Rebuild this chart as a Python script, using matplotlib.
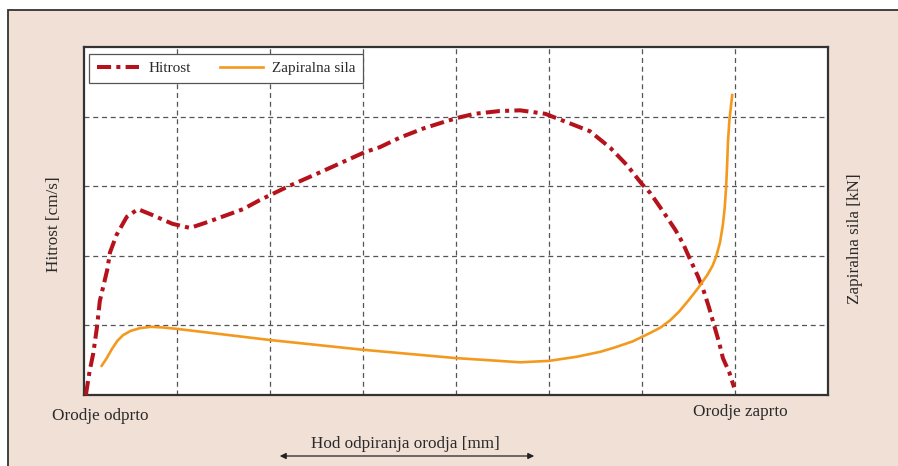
import matplotlib.pyplot as plt
from matplotlib.patches import Rectangle, FancyArrowPatch

# Hitrost (dash-dot, rdeča)
hitrost_x = [0.02, 0.06, 0.10, 0.14, 0.17, 0.25, 0.28, 0.35, 0.46, 0.58, 0.71, 0.95, 1.14, 1.34,
             1.71, 1.89, 2.20, 2.54, 3.02, 3.18, 3.40, 3.65, 3.91, 4.04, 4.20, 4.47, 4.69, 4.96,
             5.23, 5.44, 5.66, 5.84, 6.00, 6.09, 6.23, 6.36, 6.44, 6.52, 6.60, 6.66, 6.72, 6.78,
             6.83, 6.87, 6.94, 6.99]
hitrost_y = [0.00, 0.34, 0.60, 0.98, 1.35, 1.80, 2.05, 2.30, 2.56, 2.67, 2.60, 2.46, 2.40, 2.49,
             2.67, 2.80, 3.00, 3.20, 3.49, 3.56, 3.70, 3.83, 3.94, 3.99, 4.04, 4.08, 4.09, 4.04,
             3.90, 3.79, 3.55, 3.30, 3.03, 2.90, 2.63, 2.37, 2.18, 1.94, 1.71, 1.51, 1.26, 0.98,
             0.75, 0.53, 0.32, 0.11]

# Zapiralna sila (oranžna)
sila_x = [0.19, 0.24, 0.30, 0.36, 0.42, 0.50, 0.60, 0.72, 0.85, 1.00, 1.50, 2.00, 2.50, 3.00,
          3.50, 4.00, 4.35, 4.69, 5.00, 5.30, 5.55, 5.70, 5.90, 6.10, 6.20, 6.30, 6.40, 6.50,
          6.60, 6.70, 6.76, 6.80, 6.84, 6.87, 6.89, 6.905, 6.915, 6.925, 6.94, 6.97]
sila_y = [0.42, 0.52, 0.66, 0.78, 0.86, 0.92, 0.96, 0.98, 0.97, 0.95, 0.87, 0.79, 0.72, 0.65,
          0.59, 0.53, 0.50, 0.47, 0.49, 0.55, 0.62, 0.68, 0.77, 0.90, 0.97, 1.07, 1.20, 1.36,
          1.53, 1.72, 1.86, 2.00, 2.20, 2.45, 2.70, 3.00, 3.30, 3.65, 3.95, 4.31]

rdeca = '#b5121b'
oranzna = '#f39a1e'
ozadje = '#f1e0d6'
tekst = '#2a2a2a'

plt.rcParams['font.family'] = ['Liberation Serif', 'DejaVu Serif']

fig = plt.figure(figsize=(8.98, 4.66), dpi=100)
fig.patch.set_facecolor('white')

# Roza okvir ozadja
fig.add_artist(Rectangle((8 / 898, -0.05), 1.1, 1 - 10 / 466 + 0.05, transform=fig.transFigure,
                         facecolor=ozadje, edgecolor='#333333', linewidth=1.3, zorder=-10))

ax = fig.add_axes([84 / 898, 71 / 466, 744 / 898, 348 / 466])
ax.set_facecolor('white')

ax.plot(hitrost_x, hitrost_y, color=rdeca, linewidth=2.9, linestyle=(0, (3.5, 1.3, 1.0, 1.3)),
        label='Hitrost', zorder=3)
ax.plot(sila_x, sila_y, color=oranzna, linewidth=1.9, label='Zapiralna sila', zorder=3,
        solid_joinstyle='round')

ax.set_xlim(0, 8)
ax.set_ylim(0, 5)
ax.set_xticks(range(1, 8))
ax.set_yticks(range(1, 5))
ax.tick_params(length=0, labelbottom=False, labelleft=False)
ax.grid(True, color='#555555', linewidth=0.9, linestyle=(0, (4, 3)))
for s in ax.spines.values():
    s.set_color('#333333')
    s.set_linewidth(1.6)

leg = ax.legend(loc='upper left', bbox_to_anchor=(0.0067, 0.98), borderaxespad=0, ncol=2,
                fontsize=11, fancybox=False, framealpha=1, edgecolor='#555555',
                handlelength=2.8, handletextpad=0.6, columnspacing=1.9, borderpad=0.5)
leg.get_frame().set_linewidth(0.9)
for t in leg.get_texts():
    t.set_color(tekst)

# Napisi
fig.text(54 / 898, 1 - 224 / 466, 'Hitrost [cm/s]', rotation=90, ha='center', va='center',
         fontsize=12.3, color=tekst)
fig.text(855 / 898, 1 - 239 / 466, 'Zapiralna sila [kN]', rotation=90, ha='center', va='center',
         fontsize=12.3, color=tekst)
fig.text(100 / 898, 1 - 416 / 466, 'Orodje odprto', ha='center', va='center', fontsize=12.3, color=tekst)
fig.text(740 / 898, 1 - 412 / 466, 'Orodje zaprto', ha='center', va='center', fontsize=12.3, color=tekst)
fig.text(405 / 898, 1 - 444 / 466, 'Hod odpiranja orodja [mm]', ha='center', va='center',
         fontsize=12.3, color=tekst)

# Puščica
fig.add_artist(FancyArrowPatch((277 / 898, 1 - 456 / 466), (537 / 898, 1 - 456 / 466),
                               transform=fig.transFigure, arrowstyle='<|-|>', mutation_scale=9,
                               color='#222222', linewidth=0.9))

plt.savefig('out.png', dpi=100, facecolor=fig.get_facecolor())
